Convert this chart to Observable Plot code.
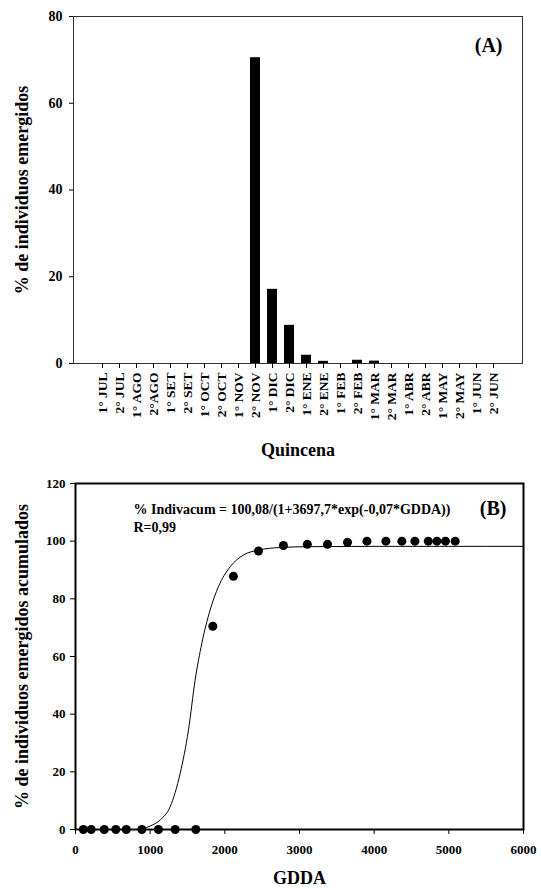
<!DOCTYPE html>
<html>
<head>
<meta charset="utf-8">
<script src="https://cdn.jsdelivr.net/npm/d3@7"></script>
<script src="https://cdn.jsdelivr.net/npm/@observablehq/plot@0.6"></script>
<style>
  body { margin: 0; background: #fff; }
  #chart svg { display: block; font-family: "Liberation Serif", "Times New Roman", serif; }
  #chart svg text { font-family: "Liberation Serif", "Times New Roman", serif; font-weight: bold; }
</style>
</head>
<body>
<div id="chart"></div>
<script>
// ---- Panel A data ----
const quincenas = ["1° JUL","2° JUL","1° AGO","2°AGO","1° SET","2° SET","1° OCT","2° OCT","1° NOV","2° NOV","1° DIC","2° DIC","1° ENE","2° ENE","1° FEB","2° FEB","1° MAR","2° MAR","1° ABR","2° ABR","1° MAY","2° MAY","1° JUN","2° JUN"];
const emergidos = [0,0,0,0,0,0,0,0,0,70.5,17.1,8.8,1.9,0.5,0,0.75,0.55,0,0,0,0,0,0,0];
const yTicksA = [0,20,40,60,80];

// ---- Panel B data ----
const gdda = [105,210,385,540,680,889,1111,1335,1611,1839,2115,2450,2785,3105,3375,3643,3903,4157,4371,4545,4725,4840,4955,5085];
const acumulados = [0,0,0,0,0,0,0,0,0,70.5,87.8,96.6,98.5,98.9,98.9,99.6,100,100,100,100,100,100,100,100];
const curvaX = [900,1000,1134,1268,1402,1513,1602,1692,1803,1914,2071,2249,2450,2740,3142,4000,5000,6000];
const curvaY = [0.2,1.2,3.3,7.9,19.5,34.5,51.8,64.6,76.1,84.2,91.1,95.2,96.9,97.8,98.1,98.2,98.2,98.2];
const xTicksB = [0,1000,2000,3000,4000,5000,6000];
const yTicksB = [0,20,40,60,80,100,120];

const serif = "Liberation Serif";
const baseStyle = {fontFamily: serif, fontWeight: "bold", background: "white", color: "black"};
const T = {fontFamily: serif, fontWeight: "bold", fill: "black", lineAnchor: "middle"};

const barData = quincenas.map((q, i) => ({q, v: emergidos[i]}));

const chartA = Plot.plot({
  width: 541, height: 470,
  marginLeft: 73, marginRight: 19, marginTop: 16, marginBottom: 107,
  style: baseStyle,
  x: {type: "band", domain: quincenas, paddingInner: 0.4, paddingOuter: 0.75, align: 0.5},
  y: {domain: [0, 80]},
  marks: [
    Plot.barY(barData, {x: "q", y: "v", fill: "black"}),
    Plot.frame({stroke: "#333", strokeWidth: 1}),
    Plot.axisX({tickRotate: -90, tickSize: 5, tickPadding: 4, fontSize: 13.5, fontFamily: serif, fontWeight: "bold", label: null}),
    Plot.axisY({ticks: yTicksA, tickSize: 4, tickPadding: 7, fontSize: 14, fontFamily: serif, fontWeight: "bold", label: null}),
    Plot.text(["% de individuos emergidos"], {...T, frameAnchor: "left", textAnchor: "middle", dx: -51, rotate: -90, fontSize: 18}),
    Plot.text(["Quincena"], {...T, frameAnchor: "bottom", textAnchor: "middle", dy: 87, fontSize: 18}),
    Plot.text(["(A)"], {...T, frameAnchor: "top-right", dx: -20, dy: 29.5, textAnchor: "end", fontSize: 20})
  ]
});

const puntos = gdda.map((g, i) => ({g, p: acumulados[i]}));
const curva = curvaX.map((g, i) => ({g, p: curvaY[i]}));

const chartB = Plot.plot({
  width: 541, height: 419,
  marginLeft: 75, marginRight: 18, marginTop: 13, marginBottom: 60,
  style: baseStyle,
  x: {domain: [0, 6000]},
  y: {domain: [0, 120]},
  marks: [
    Plot.frame({stroke: "black", strokeWidth: 2}),
    Plot.line(curva, {x: "g", y: "p", curve: "monotone-x", stroke: "black", strokeWidth: 1}),
    Plot.dot(puntos, {x: "g", y: "p", r: 4.5, fill: "black"}),
    Plot.axisX({ticks: xTicksB, tickSize: 5, tickPadding: 10, fontSize: 13, fontFamily: serif, fontWeight: "bold", tickFormat: d => String(d), label: null}),
    Plot.axisY({ticks: yTicksB, tickSize: 5, tickPadding: 5, fontSize: 13, fontFamily: serif, fontWeight: "bold", tickFormat: d => String(d), label: null}),
    Plot.text(["% de individuos emergidos acumulados"], {...T, frameAnchor: "left", textAnchor: "middle", dx: -53, rotate: -90, fontSize: 18}),
    Plot.text(["GDDA"], {...T, frameAnchor: "bottom", textAnchor: "middle", dy: 49, fontSize: 18}),
    Plot.text(["% Indivacum = 100,08/(1+3697,7*exp(-0,07*GDDA))"], {...T, frameAnchor: "top-left", dx: 58, dy: 26, textAnchor: "start", fontSize: 14}),
    Plot.text(["R=0,99"], {...T, frameAnchor: "top-left", dx: 58, dy: 44, textAnchor: "start", fontSize: 14}),
    Plot.text(["(B)"], {...T, frameAnchor: "top-right", dx: -17, dy: 25, textAnchor: "end", fontSize: 20})
  ]
});

const root = document.getElementById("chart");
root.appendChild(chartA);
root.appendChild(chartB);
</script>
</body>
</html>
